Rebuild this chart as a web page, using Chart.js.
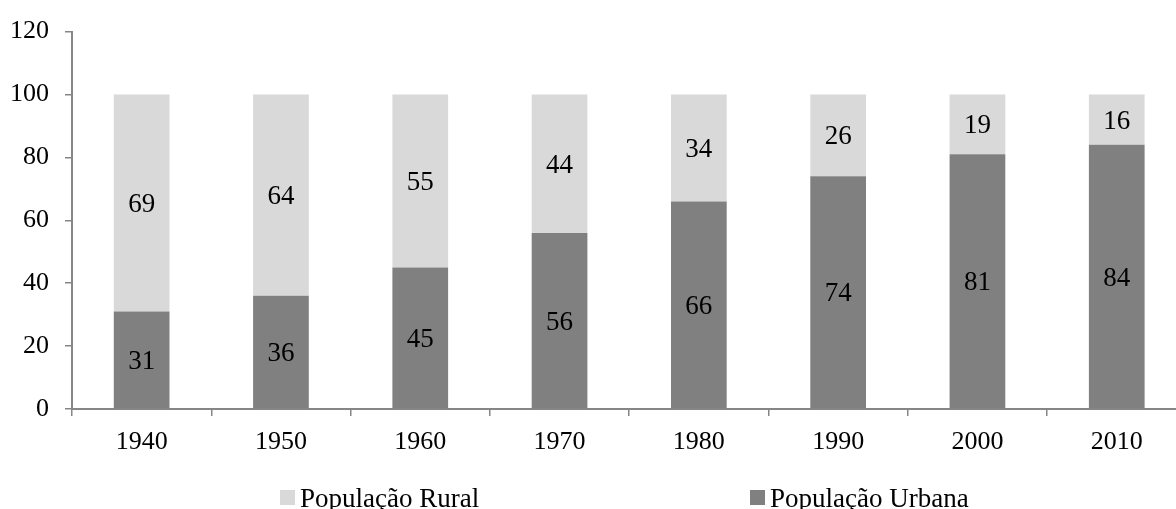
<!DOCTYPE html>
<html>
<head>
<meta charset="utf-8">
<script src="https://cdn.jsdelivr.net/npm/chart.js@4"></script>
<style>
  html, body { margin: 0; padding: 0; background: #fff; overflow: hidden; }
  #wrap { position: relative; width: 1190px; height: 509px; }
  #legend { position: absolute; left: 0; top: 483px; width: 1176px; height: 30px; font-family: "Liberation Serif", serif; font-size: 27px; color: #000; }
  .item { position: absolute; top: 0; white-space: nowrap; line-height: 30px; padding-left: 20px; }
  .box { position: absolute; left: 0; top: 7px; width: 15px; height: 15px; }
</style>
</head>
<body>
<div id="wrap">
  <canvas id="chart"></canvas>
  <div id="legend"></div>
</div>
<script>
const years = ['1940', '1950', '1960', '1970', '1980', '1990', '2000', '2010'];
const urbana = [31, 36, 45, 56, 66, 74, 81, 84];
const rural = [69, 64, 55, 44, 34, 26, 19, 16];
const yTicks = [0, 20, 40, 60, 80, 100, 120];

const axisGray = '#868686';
const fontFam = '"Liberation Serif", "Times New Roman", serif';

// rótulos dentro de cada segmento
const segmentLabels = {
  id: 'segmentLabels',
  afterDatasetsDraw(chart) {
    const ctx = chart.ctx;
    ctx.save();
    ctx.font = '27px ' + fontFam;
    ctx.fillStyle = '#000';
    ctx.textAlign = 'center';
    ctx.textBaseline = 'middle';
    chart.data.datasets.forEach((ds, i) => {
      chart.getDatasetMeta(i).data.forEach((bar, j) => {
        const p = bar.getProps(['x', 'y', 'base'], true);
        ctx.fillText(ds.data[j], p.x, (p.y + p.base) / 2 + 2);
      });
    });
    ctx.restore();
  }
};

const chart = new Chart(document.getElementById('chart'), {
  type: 'bar',
  data: {
    labels: years,
    datasets: [
      { label: 'População Urbana', data: urbana, backgroundColor: '#808080', categoryPercentage: 1, barPercentage: 0.4 },
      { label: 'População Rural', data: rural, backgroundColor: '#d9d9d9', categoryPercentage: 1, barPercentage: 0.4 }
    ]
  },
  options: {
    responsive: true,
    maintainAspectRatio: false,
    animation: false,
    layout: { padding: { top: 29, right: 3.6, left: 0, bottom: 0 } },
    plugins: { legend: { display: false }, tooltip: { enabled: false } },
    scales: {
      x: {
        stacked: true,
        offset: true,
        grid: { offset: true, drawOnChartArea: false, drawTicks: true, tickLength: 7, color: axisGray, lineWidth: 1.5 },
        border: { color: axisGray, width: 2 },
        ticks: { color: '#000', font: { family: fontFam, size: 26 }, padding: 11, maxRotation: 0 },
        afterFit(scale) { scale.height = 100; }
      },
      y: {
        stacked: true,
        min: 0,
        max: 120,
        afterBuildTicks(scale) { scale.ticks = yTicks.map(v => ({ value: v })); },
        grid: { drawOnChartArea: false, drawTicks: true, tickLength: 7, color: axisGray, lineWidth: 1.5 },
        border: { color: axisGray, width: 2 },
        ticks: { color: '#000', font: { family: fontFam, size: 26 }, padding: 16 },
        afterFit(scale) { scale.width = 72; }
      }
    }
  },
  plugins: [segmentLabels]
});

// legenda em HTML (Rural primeiro, como no original)
const legend = document.getElementById('legend');
const legendPos = [280, 750];
[1, 0].forEach((idx, k) => {
  const ds = chart.data.datasets[idx];
  const item = document.createElement('div');
  item.className = 'item';
  item.style.left = legendPos[k] + 'px';
  item.innerHTML = '<span class="box" style="background:' + ds.backgroundColor + '"></span>' + ds.label;
  legend.appendChild(item);
});
</script>
</body>
</html>
